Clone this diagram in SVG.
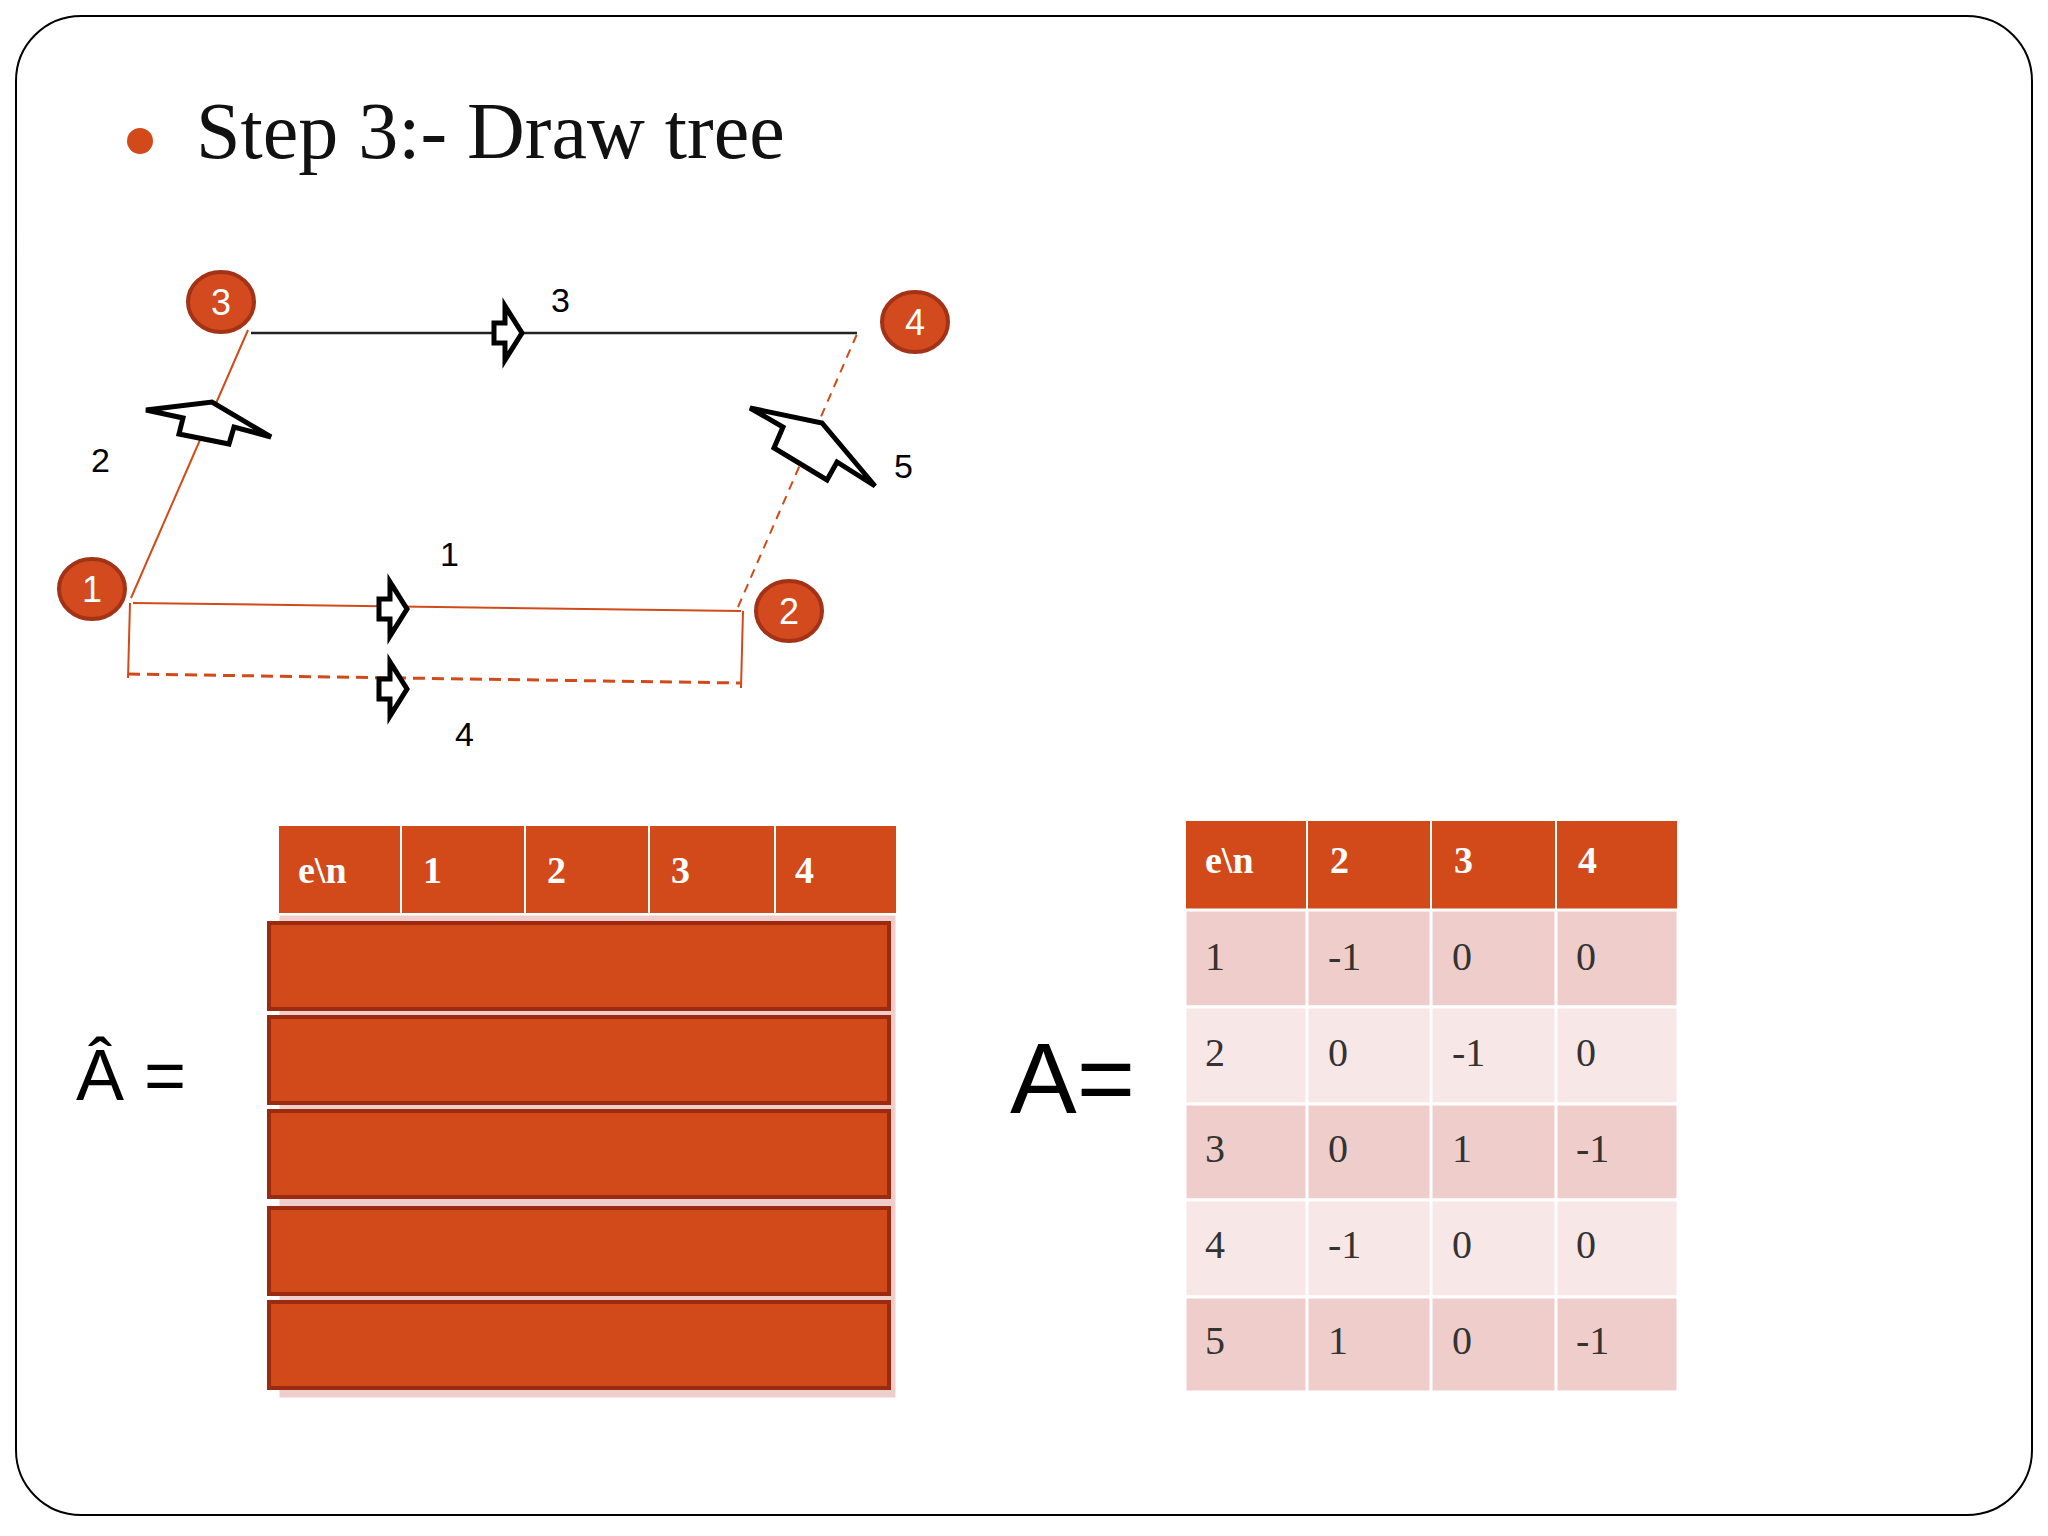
<svg xmlns="http://www.w3.org/2000/svg" width="2048" height="1536" viewBox="0 0 2048 1536">
<style>
.nd ellipse{fill:#D24A1E;stroke:#A33216;stroke-width:4}
.nd text{font-family:"Liberation Sans",Arial,sans-serif;font-size:36px;fill:#fff;text-anchor:middle}
.lb{font-family:"Liberation Sans",Arial,sans-serif;font-size:34px;fill:#000}
.ar{fill:#fff;stroke:#000;stroke-width:5;stroke-linejoin:miter}
.hd{fill:#D24A1A;stroke:#fff;stroke-width:2}
.ht{font-family:"Liberation Serif","Times New Roman",serif;font-weight:bold;font-size:38px;fill:#fff}
.ct{font-family:"Liberation Serif","Times New Roman",serif;font-size:40px;fill:#333}
.r1{fill:#EFCDCB;stroke:#fff;stroke-width:3}
.r2{fill:#F7E7E6;stroke:#fff;stroke-width:3}
.bar{fill:#D24A1A;stroke:#9A2A10;stroke-width:4}
</style>
<rect x="16" y="16" width="2016" height="1499" rx="65" fill="#fff" stroke="#000" stroke-width="2"/>
<circle cx="140" cy="141" r="13" fill="#D24A1A"/>
<text x="196" y="158" font-family="'Liberation Serif','Times New Roman',serif" font-size="80" fill="#111">Step 3:- Draw tree</text>
<g id="connectors">
<line x1="251" y1="333" x2="857" y2="333" stroke="#222" stroke-width="2.5"/>
<line x1="131" y1="598" x2="248" y2="330" stroke="#D24A1A" stroke-width="2"/>
<line x1="133" y1="603" x2="741" y2="611" stroke="#D24A1A" stroke-width="2"/>
<line x1="128" y1="674" x2="741" y2="683" stroke="#D24A1A" stroke-width="3" stroke-dasharray="12,7"/>
<line x1="130" y1="603" x2="128" y2="678" stroke="#D24A1A" stroke-width="2"/>
<line x1="743" y1="611" x2="741" y2="688" stroke="#D24A1A" stroke-width="2"/>
<line x1="738" y1="607" x2="857" y2="334" stroke="#D24A1A" stroke-width="2" stroke-dasharray="9,7"/>
<path class="ar" transform="translate(505,333)" d="M-11,-10 L0,-10 L0,-27 L17,0 L0,27 L0,10 L-11,10Z"/>
<path class="ar" transform="translate(390,609)" d="M-11,-10 L0,-10 L0,-27 L17,0 L0,27 L0,10 L-11,10Z"/>
<path class="ar" transform="translate(390,689)" d="M-11,-10 L0,-10 L0,-27 L17,0 L0,27 L0,10 L-11,10Z"/>
<path class="ar" d="M146,410 L212,402 L271,437 L234,427 L229,444 L179,434 L183,418Z"/>
<path class="ar" d="M750,408 L822,423 L875,486 L837,462 L827,480 L774,448 L783,427Z"/>
<text class="lb" x="551" y="312">3</text>
<text class="lb" x="91" y="472">2</text>
<text class="lb" x="894" y="478">5</text>
<text class="lb" x="440" y="566">1</text>
<text class="lb" x="455" y="746">4</text>
</g>
<g id="n1" class="nd"><ellipse cx="92" cy="589" rx="33" ry="30"/><text x="92" y="602">1</text></g>
<g id="n2" class="nd"><ellipse cx="789" cy="611" rx="33" ry="30"/><text x="789" y="624">2</text></g>
<g id="n3" class="nd"><ellipse cx="221" cy="302" rx="33" ry="30"/><text x="221" y="315">3</text></g>
<g id="n4" class="nd"><ellipse cx="915" cy="322" rx="33" ry="30"/><text x="915" y="335">4</text></g>
<g id="table1">
<rect class="r1" x="278" y="914" width="619" height="485"/>
<rect class="hd" x="278" y="825" width="123" height="89"/><rect class="hd" x="401" y="825" width="124" height="89"/><rect class="hd" x="525" y="825" width="124" height="89"/><rect class="hd" x="649" y="825" width="126" height="89"/><rect class="hd" x="775" y="825" width="122" height="89"/>
<text class="ht" x="298" y="883">e\n</text><text class="ht" x="423" y="883">1</text><text class="ht" x="547" y="883">2</text><text class="ht" x="671" y="883">3</text><text class="ht" x="795" y="883">4</text>
<rect class="bar" x="269" y="923" width="620" height="86"/>
<rect class="bar" x="269" y="1017" width="620" height="86"/>
<rect class="bar" x="269" y="1111" width="620" height="86"/>
<rect class="bar" x="269" y="1208" width="620" height="86"/>
<rect class="bar" x="269" y="1302" width="620" height="86"/>
</g>
<text x="76" y="1100" font-family="'Liberation Sans',Arial,sans-serif" font-size="72" fill="#000">Â =</text>
<text x="1010" y="1113" font-family="'Liberation Sans',Arial,sans-serif" font-size="100" fill="#000">A=</text>
<g id="table2">
<rect class="hd" x="1185" y="820" width="122" height="90"/><rect class="hd" x="1307" y="820" width="124" height="90"/><rect class="hd" x="1431" y="820" width="125" height="90"/><rect class="hd" x="1556" y="820" width="122" height="90"/>
<text class="ht" x="1205" y="873">e\n</text><text class="ht" x="1330" y="873">2</text><text class="ht" x="1454" y="873">3</text><text class="ht" x="1578" y="873">4</text>
<g><rect class="r1" x="1185" y="910" width="493" height="97"/>
<text class="ct" x="1205" y="970">1</text><text class="ct" x="1328" y="970">-1</text><text class="ct" x="1452" y="970">0</text><text class="ct" x="1576" y="970">0</text></g>
<g><rect class="r2" x="1185" y="1007" width="493" height="97"/>
<text class="ct" x="1205" y="1066">2</text><text class="ct" x="1328" y="1066">0</text><text class="ct" x="1452" y="1066">-1</text><text class="ct" x="1576" y="1066">0</text></g>
<g><rect class="r1" x="1185" y="1104" width="493" height="96"/>
<text class="ct" x="1205" y="1162">3</text><text class="ct" x="1328" y="1162">0</text><text class="ct" x="1452" y="1162">1</text><text class="ct" x="1576" y="1162">-1</text></g>
<g><rect class="r2" x="1185" y="1200" width="493" height="97"/>
<text class="ct" x="1205" y="1258">4</text><text class="ct" x="1328" y="1258">-1</text><text class="ct" x="1452" y="1258">0</text><text class="ct" x="1576" y="1258">0</text></g>
<g><rect class="r1" x="1185" y="1297" width="493" height="95"/>
<text class="ct" x="1205" y="1354">5</text><text class="ct" x="1328" y="1354">1</text><text class="ct" x="1452" y="1354">0</text><text class="ct" x="1576" y="1354">-1</text></g>
<line x1="1307" y1="910" x2="1307" y2="1392" stroke="#fff" stroke-width="3"/>
<line x1="1431" y1="910" x2="1431" y2="1392" stroke="#fff" stroke-width="3"/>
<line x1="1556" y1="910" x2="1556" y2="1392" stroke="#fff" stroke-width="3"/>
</g>
</svg>
